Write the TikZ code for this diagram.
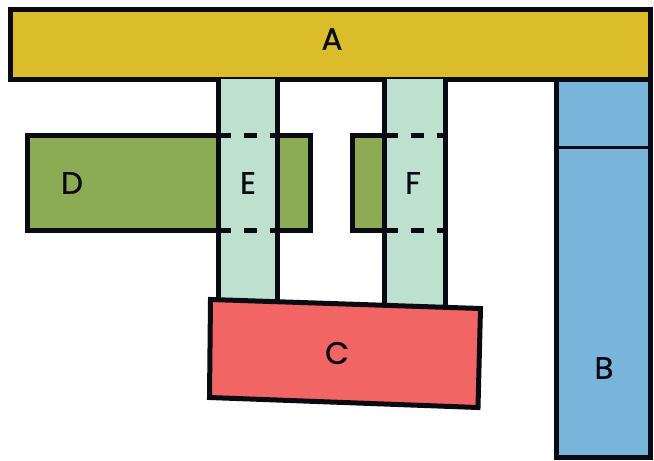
\documentclass[tikz,border=0pt]{standalone}
\usepackage{fontspec}
\setmainfont{Poppins}
\newfontfamily\lblfont{Poppins}[FakeBold=0.8]
\definecolor{colA}{HTML}{DBBD2B}
\definecolor{colB}{HTML}{79B4DA}
\definecolor{colC}{HTML}{F16565}
\definecolor{colD}{HTML}{8DAA55}
\definecolor{colE}{HTML}{BEE0CE}
\definecolor{ink}{HTML}{0A0B12}
\tikzset{
  block/.style={draw=ink, line width=5pt, line join=miter},
  edge/.style={draw=ink, line width=5pt},
  dashedge/.style={draw=ink, line width=5pt, dash pattern=on 13pt off 13pt},
  lbl/.style={font=\lblfont\fontsize{31}{31}\selectfont, text=ink, inner sep=0pt}
}
\begin{document}
\begin{tikzpicture}[x=1pt,y=-1pt]
\useasboundingbox (0,0) rectangle (654,461);
% A
\path[block, fill=colA] (10.5,9.5) rectangle (650.5,79);
% B
\path[block, fill=colB] (556.5,79) rectangle (650.5,457.5);
\draw[draw=ink, line width=3.5pt] (556.5,147.5) -- (650.5,147.5);
% D and F green part
\path[block, fill=colD] (27.5,135.5) rectangle (310.5,230);
\path[block, fill=colD] (352.5,135.5) rectangle (384.5,230);
% E column
\fill[colE] (218,79) rectangle (277,302);
\draw[edge] (218,79) -- (218,302);
\draw[edge] (277,79) -- (277,302);
\draw[dashedge] (218,135.5) -- (277,135.5);
\draw[dashedge] (218,230) -- (277,230);
% F column
\fill[colE] (384.5,79) rectangle (445,308);
\draw[edge] (384.5,79) -- (384.5,308);
\draw[edge] (445,79) -- (445,308);
\draw[dashedge] (384.5,135.5) -- (445,135.5);
\draw[dashedge] (384.5,230) -- (445,230);
% C
\path[block, fill=colC] (210.5,299.5) -- (480.5,308.5) -- (478,407.5) -- (209.5,397.5) -- cycle;
% labels
\node[lbl] (A) at (332,39) {A};
\node[lbl] (B) at (604,368) {B};
\node[lbl, rotate=-1.9] (C) at (337,353) {C};
\node[lbl] (D) at (72,183) {D};
\node[lbl] (E) at (248,183) {E};
\node[lbl] (F) at (413,183) {F};
\end{tikzpicture}
\end{document}
